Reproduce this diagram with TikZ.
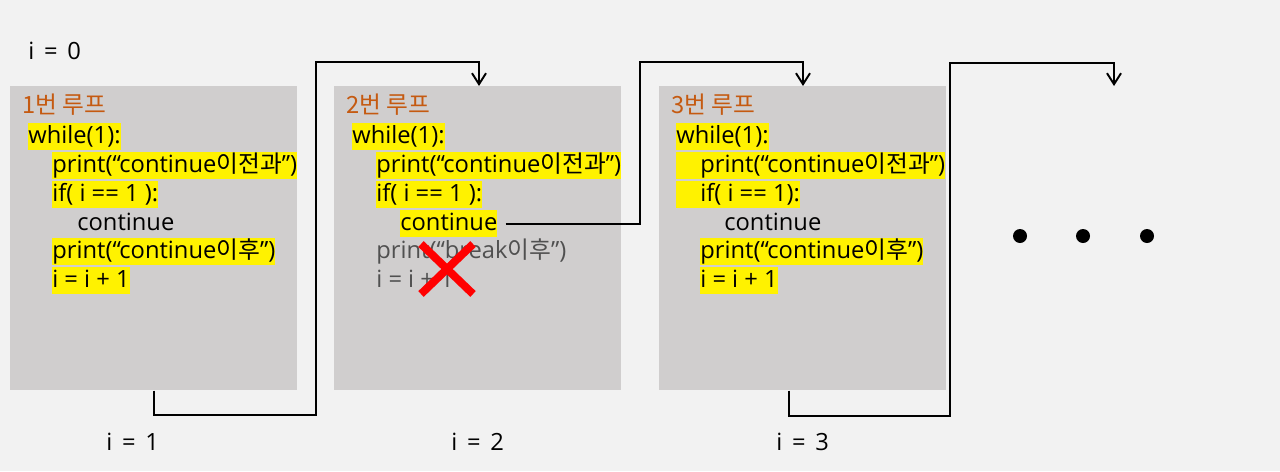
\documentclass[tikz,border=0pt]{standalone}
\usepackage{fontspec}
\setmainfont{Open Sans}
\newfontfamily\kr{Noto Sans CJK KR}
\usetikzlibrary{positioning,arrows.meta,calc}
\definecolor{canvas}{HTML}{F2F2F2}
\definecolor{panel}{HTML}{D0CECE}
\definecolor{title}{HTML}{C55A11}
\definecolor{dim}{HTML}{505050}

\begin{document}
\begin{tikzpicture}[x=0.02cm,y=-0.02cm,
  loopbox/.style={fill=panel,minimum width=5.74cm,minimum height=6.08cm,anchor=north west,inner sep=0pt},
  ttl/.style={font=\fontsize{13.5}{15}\selectfont,text=title,anchor=base west,inner sep=0pt},
  ln/.style={font=\fontsize{13.5}{15}\selectfont,anchor=base west,inner sep=0pt,text height=11.3pt,text depth=4pt},
  hl/.style={ln,fill=yellow},
  dimln/.style={ln,text=dim},
  lbl/.style={font=\fontsize{13.5}{15}\selectfont,anchor=base west,inner sep=0pt},
  flow/.style={line width=1.1pt,-{Straight Barb[length=2.2mm,width=2.8mm]}},
  cross/.style={red,line width=4.5pt},
  dot/.style={circle,fill=black,minimum size=0.28cm,inner sep=0pt}]
\fill[canvas] (0,0) rectangle (1280,471);
\useasboundingbox (0,0) rectangle (1280,471);
% loop panels
\foreach \x/\k in {10/1,334/2,659/3}{
  \node[loopbox] (b\k) at (\x,86) {};
  \node[ttl] (t\k) at (\x+12,113) {\kr \k 번 루프};}
% loop 1
\node[hl] (w1) at (28,143) {while(1):};
\node[hl] (p1) at (52,172) {print(“continue{\kr 이전과}”)};
\node[hl] (f1) at (52,201) {if( i == 1 ):};
\node[ln] (c1) at (77,230) {continue};
\node[hl] (q1) at (52,258) {print(“continue{\kr 이후}”)};
\node[hl] (i1) at (52,287) {i = i + 1};
% loop 2
\node[hl] (w2) at (352,143) {while(1):};
\node[hl] (p2) at (376,172) {print(“continue{\kr 이전과}”)};
\node[hl] (f2) at (376,201) {if( i == 1 ):};
\node[hl] (c2) at (400,230) {continue};
\node[dimln] (q2) at (376,258) {print(“break{\kr 이후}”)};
\node[dimln] (i2) at (376,287) {i = i + 1};
\draw[cross] (421,244) -- (473,294) (473,244) -- (421,294);
% loop 3
\node[hl] (w3) at (676,143) {while(1):};
\node[hl] (p3) at (676,172) {\hspace{0.48cm}print(“continue{\kr 이전과}”)};
\node[hl] (f3) at (676,201) {\hspace{0.48cm}if( i == 1):};
\node[ln] (c3) at (724,230) {continue};
\node[hl] (q3) at (700,258) {print(“continue{\kr 이후}”)};
\node[hl] (i3) at (700,287) {i = i + 1};
% counters
\node[lbl] (n0) at (28,59) {i\hspace{2pt} = \hspace{2pt}0};
\node[lbl] (n1) at (106,450) {i\hspace{2pt} = \hspace{2pt}1};
\node[lbl] (n2) at (451,450) {i\hspace{2pt} = \hspace{2pt}2};
\node[lbl] (n3) at (776,450) {i\hspace{2pt} = \hspace{2pt}3};
% jumps
\coordinate (d1) at (154,415); \coordinate (u1) at (316,62); \coordinate (e1) at (479,62);
\coordinate (u2) at (640,62); \coordinate (e2) at (803,62);
\coordinate (d3) at (789,416); \coordinate (u3) at (950,63); \coordinate (e3) at (1114,86);
\draw[flow] (b1.south -| d1) -- (d1) -| (u1) -| (b2.north -| e1);
\draw[flow] ([xshift=0.16cm]c2.east) -| (u2) -| (b3.north -| e2);
\draw[flow] (b3.south -| d3) -- (d3) -| (u3) -| (e3);
\foreach \x [count=\k] in {1020,1083,1147}
  \node[dot] (dot\k) at (\x,236) {};
\end{tikzpicture}
\end{document}
